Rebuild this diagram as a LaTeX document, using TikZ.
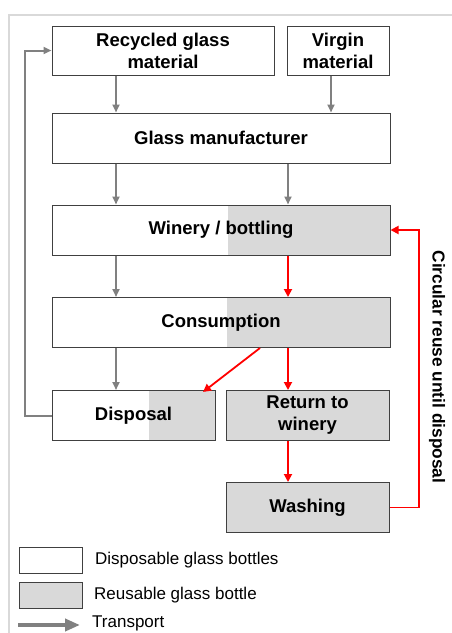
\documentclass[tikz,border=0pt]{standalone}
\usepackage{fontspec}
\setmainfont{Liberation Sans}
\usetikzlibrary{positioning,arrows.meta}
\definecolor{boxline}{RGB}{64,64,64}
\definecolor{reusegray}{RGB}{217,217,217}
\definecolor{flowgray}{RGB}{128,128,128}
\definecolor{framegray}{RGB}{217,217,217}
\definecolor{loopred}{RGB}{255,0,0}

\begin{document}
\begin{tikzpicture}[x=1pt,y=-1pt,
	box/.style={draw=boxline,line width=1pt,minimum height=50pt,inner sep=0pt,align=center,
		font=\fontsize{18.5}{22}\selectfont\bfseries},
	reuse/.style={box,fill=reusegray},
	half/.style={path picture={\fill[reusegray] ([xshift=#1]path picture bounding box.south west)
		rectangle (path picture bounding box.north east);}},
	flow/.style={draw=flowgray,line width=2pt,-{Triangle[length=8pt,width=7pt]}},
	back/.style={draw=loopred,line width=1.8pt,-{Triangle[length=8pt,width=8pt]}},
	legtxt/.style={anchor=west,inner sep=0pt,font=\fontsize{17}{20}\selectfont}]
\useasboundingbox (0,0) rectangle (452,633);
\draw[framegray,line width=1.5pt] (9,640)-- (9,15)-- (460,15);

\coordinate (c1) at (116,0);
\coordinate (c2) at (288,0);
\coordinate (c3) at (331,0);
\coordinate (lx) at (25,0);
\coordinate (rx) at (419,0);

\node[box,minimum width=222pt,minimum height=49pt] (rec) at (163,50.5) {Recycled glass\\material};
\node[box,minimum width=102pt,minimum height=49pt] (vir) at (338,50.5) {Virgin\\material};
\node[box,minimum width=338pt] (gm) at (221,138) {Glass manufacturer};
\node[box,minimum width=338pt,half=176pt] (win) at (221,230) {Winery / bottling};
\node[box,minimum width=338pt,half=175pt] (con) at (221,322.5) {Consumption};
\node[box,minimum width=163pt,half=97pt] (dis) at (133.5,415.5) {Disposal};
\node[reuse,minimum width=163pt] (ret) at (307.5,415.5) {Return to\\winery};
\node[reuse,minimum width=163pt] (was) at (307.5,507.5) {Washing};

\draw[flow] (rec.south -| c1) -- (gm.north -| c1);
\draw[flow] (vir.south -| c3) -- (gm.north -| c3);
\draw[flow] (gm.south -| c1) -- (win.north -| c1);
\draw[flow] (gm.south -| c2) -- (win.north -| c2);
\draw[flow] (win.south -| c1) -- (con.north -| c1);
\draw[back] (win.south -| c2) -- (con.north -| c2);
\draw[flow] (con.south -| c1) -- (dis.north -| c1);
\draw[back] ([xshift=39pt]con.south) -- ([xshift=69.5pt,yshift=-2pt]dis.north);
\draw[back] (con.south -| c2) -- (ret.north -| c2);
\draw[back] (ret.south -| c2) -- (was.north -| c2);
\draw[back] (was.east) -- (was.east -| rx) -- (win.east -| rx) -- (win.east);
\draw[flow] (dis.west) -- (dis.west -| lx) -- (rec.west -| lx) -- (rec.west);
\node[font=\fontsize{17.3}{20}\selectfont\bfseries,rotate=-90] (circ) at (437,367) {Circular reuse until disposal};

% legend
\node[box,minimum width=63pt,minimum height=26pt] (kdis) at (50.5,560) {};
\node[reuse,minimum width=63pt,minimum height=26pt] (kre) at (50.5,595) {};
\node[legtxt] (tdis) at (95,560) {Disposable glass bottles};
\node[legtxt] (tre) at (94,595) {Reusable glass bottle};
\coordinate (ka) at (18,625);
\coordinate (kb) at (80,625);
\draw[flow,line width=4pt,-{Triangle[length=15pt,width=12pt]}] (ka) -- (kb);
\node[legtxt] (ttra) at (92,623) {Transport};
\end{tikzpicture}
\end{document}
